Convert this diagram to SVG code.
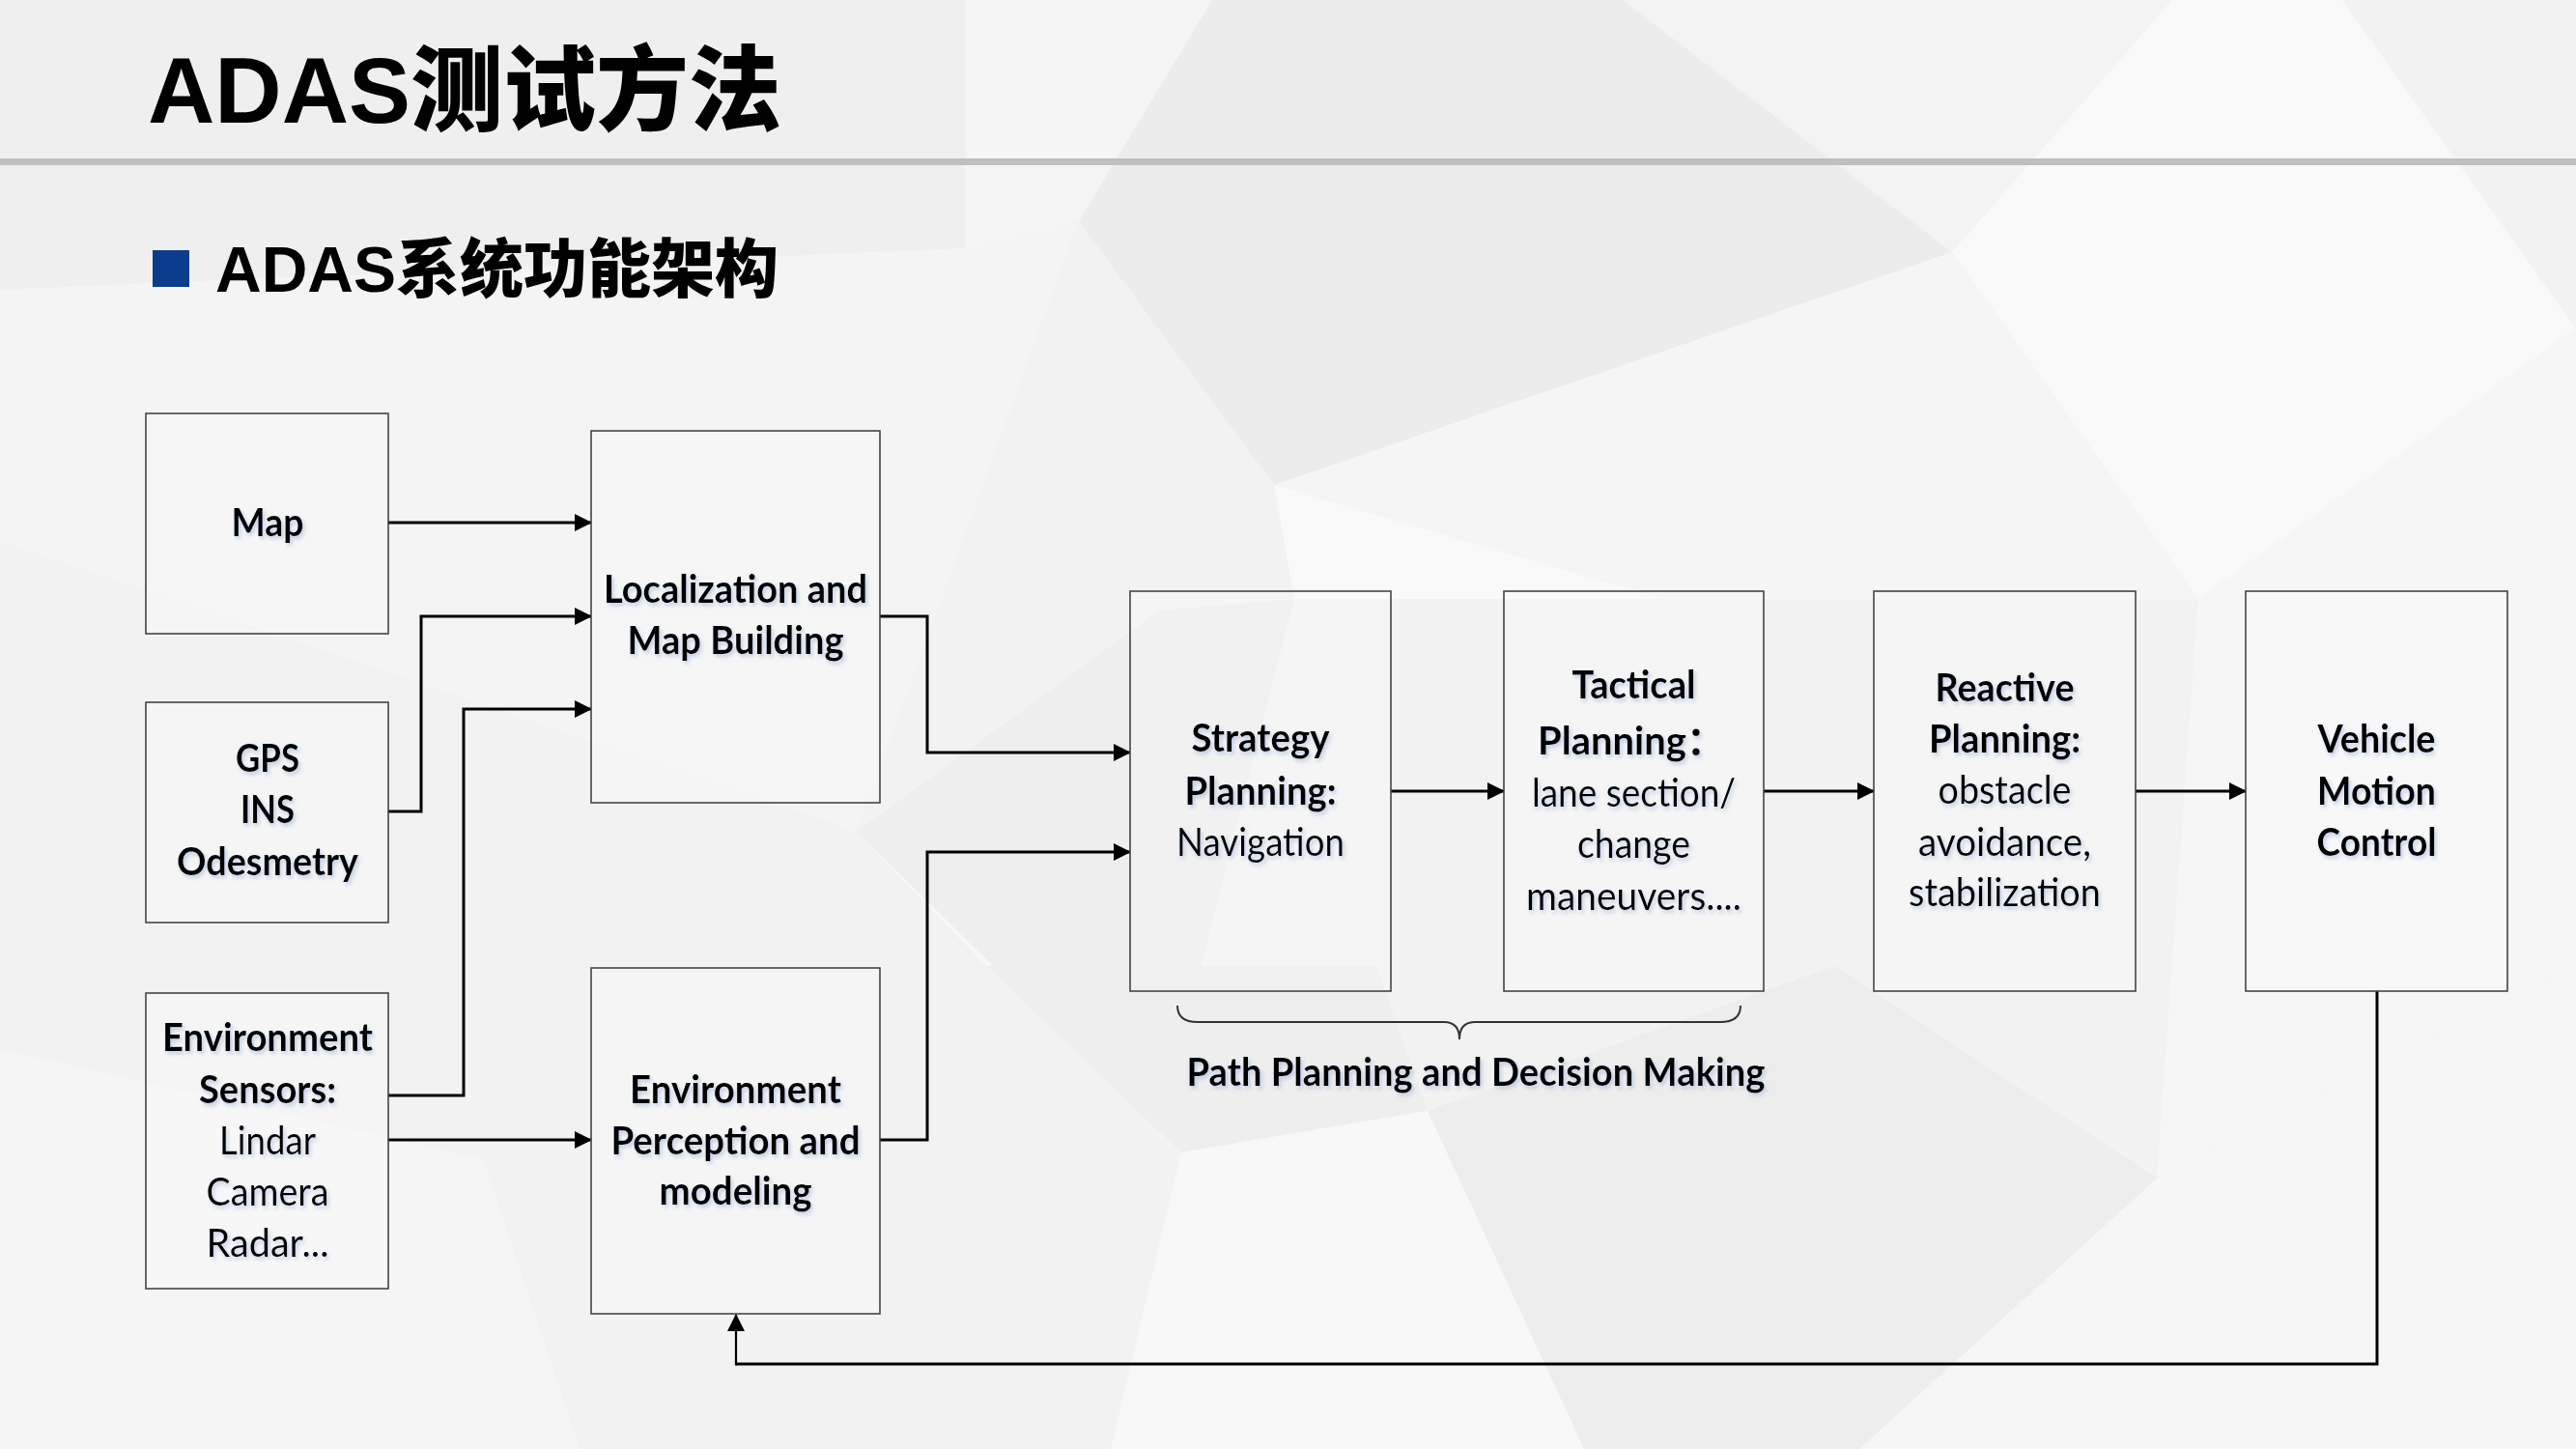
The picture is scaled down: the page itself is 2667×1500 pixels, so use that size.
<svg xmlns="http://www.w3.org/2000/svg" width="2667" height="1500" viewBox="0 0 2667 1500">
<defs>
<style>
.box{fill:#ffffff;fill-opacity:0.22;stroke:#444444;stroke-width:1.6}
.t{font-family:Lato,"Open Sans",sans-serif;font-size:40px;fill:#000;text-anchor:middle}
.b{font-weight:700}
.r{font-weight:400}
.con{fill:none;stroke:#000;stroke-width:3;stroke-linejoin:miter}
.bg polygon{stroke:none}
</style>
<marker id="ah" markerUnits="userSpaceOnUse" markerWidth="18" markerHeight="18" viewBox="0 0 18 18" refX="17" refY="9" orient="auto">
<path d="M0,0 L18,9 L0,18 z" fill="#000"/>
</marker>
<filter id="ts" x="-10%" y="-30%" width="130%" height="180%">
<feDropShadow dx="2" dy="3" stdDeviation="2" flood-color="#9db3d9" flood-opacity="0.6"/>
</filter>
</defs>

<g class="bg">
<rect x="0" y="0" width="2667" height="1500" fill="#f2f2f2"/>
<polygon points="0,0 1000,0 1000,257 0,300" fill="#efefef"/>
<polygon points="1000,0 1255,0 1117,229 1000,257" fill="#f5f5f5"/>
<polygon points="1255,0 1680,0 2021,261 1319,502 1117,229" fill="#ececec"/>
<polygon points="1680,0 2249,0 2021,261" fill="#f3f3f3"/>
<polygon points="2249,0 2425,0 2667,340 2276,620 2021,261" fill="#f9f9f9"/>
<polygon points="2425,0 2667,0 2667,340" fill="#f2f2f2"/>
<polygon points="1319,502 2021,261 2276,620 1723,620" fill="#f5f5f5"/>
<polygon points="1319,502 1723,620 1340,620" fill="#f9f9f9"/>
<polygon points="0,300 1000,257 1117,229 887,861 0,560" fill="#f4f4f4"/>
<polygon points="887,861 1200,632 1340,620 1200,1169" fill="#eeeeee"/>
<polygon points="887,861 1200,1169 1021,1000" fill="#f7f7f7"/>
<polygon points="2276,620 2667,340 2667,1000 2233,1220" fill="#f6f6f6"/>
<polygon points="1021,1000 1425,1000 1478,1150 1223,1193" fill="#eeeeee"/>
<polygon points="1478,1150 1900,1000 2233,1220 1925,1500 1640,1500" fill="#ededed"/>
<polygon points="2233,1220 2667,1000 2667,1500 1925,1500" fill="#f6f6f6"/>
<polygon points="0,1086 500,1200 600,1500 0,1500" fill="#f5f5f5"/>
<polygon points="1223,1193 1478,1150 1640,1500 1150,1500" fill="#f8f8f8"/>
</g>

<g id="header">
<text x="153" y="127" font-family="'Liberation Sans','Noto Sans CJK SC',sans-serif" font-weight="900" font-size="96" fill="#000">ADAS测试方法</text>
<rect x="0" y="164" width="2667" height="7" fill="#bfbfbf"/>
<rect x="158" y="259" width="38" height="38" fill="#0b3d8c"/>
<text x="223" y="302" font-family="'Liberation Sans','Noto Sans CJK SC',sans-serif" font-weight="900" font-size="66" fill="#000">ADAS系统功能架构</text>
</g>

<g id="connectors">
<path class="con" d="M402,541 H612" marker-end="url(#ah)"/>
<path class="con" d="M402,840 H436 V638 H612" marker-end="url(#ah)"/>
<path class="con" d="M402,1134 H480 V734 H612" marker-end="url(#ah)"/>
<path class="con" d="M402,1180 H612" marker-end="url(#ah)"/>
<path class="con" d="M911,638 H960 V779 H1170" marker-end="url(#ah)"/>
<path class="con" d="M911,1180 H960 V882 H1170" marker-end="url(#ah)"/>
<path class="con" d="M1440,819 H1557" marker-end="url(#ah)"/>
<path class="con" d="M1826,819 H1940" marker-end="url(#ah)"/>
<path class="con" d="M2211,819 H2325" marker-end="url(#ah)"/>
<path class="con" d="M2461,1026 V1412 H762"/>
<path class="con" style="stroke-width:2.2" d="M762,1413.5 V1361" marker-end="url(#ah)"/>
<path d="M1219,1041 Q1219,1058 1240,1058 L1495,1058 Q1511,1058 1511,1076 Q1511,1058 1527,1058 L1781,1058 Q1802,1058 1802,1041" fill="none" stroke="#333" stroke-width="2"/>
<text class="t b" x="1528" y="1124" textLength="599" lengthAdjust="spacingAndGlyphs" filter="url(#ts)">Path Planning and Decision Making</text>
</g>

<g id="map">
<rect class="box" x="151" y="428" width="251" height="228"/>
<text class="t b" x="277" y="555" textLength="75" lengthAdjust="spacingAndGlyphs" filter="url(#ts)">Map</text>
</g>

<g id="gps">
<rect class="box" x="151" y="727" width="251" height="228"/>
<g class="t b" filter="url(#ts)">
<text x="277" y="799" textLength="66" lengthAdjust="spacingAndGlyphs">GPS</text>
<text x="277" y="852" textLength="56" lengthAdjust="spacingAndGlyphs">INS</text>
<text x="277" y="906" textLength="188" lengthAdjust="spacingAndGlyphs">Odesmetry</text>
</g>
</g>

<g id="env-sensors">
<rect class="box" x="151" y="1028" width="251" height="306"/>
<g class="t" filter="url(#ts)">
<text class="b" x="277" y="1088" textLength="218" lengthAdjust="spacingAndGlyphs">Environment</text>
<text class="b" x="277" y="1142" textLength="142" lengthAdjust="spacingAndGlyphs">Sensors:</text>
<text class="r" x="277" y="1195" textLength="100" lengthAdjust="spacingAndGlyphs">Lindar</text>
<text class="r" x="277" y="1248" textLength="127" lengthAdjust="spacingAndGlyphs">Camera</text>
<text class="r" x="277" y="1301" textLength="127" lengthAdjust="spacingAndGlyphs">Radar...</text>
</g>
</g>

<g id="localization">
<rect class="box" x="612" y="446" width="299" height="385"/>
<g class="t b" filter="url(#ts)">
<text x="761.5" y="624" textLength="273" lengthAdjust="spacingAndGlyphs">Localization and</text>
<text x="761.5" y="677" textLength="224" lengthAdjust="spacingAndGlyphs">Map Building</text>
</g>
</g>

<g id="env-perception">
<rect class="box" x="612" y="1002" width="299" height="358"/>
<g class="t b" filter="url(#ts)">
<text x="761.5" y="1142" textLength="219" lengthAdjust="spacingAndGlyphs">Environment</text>
<text x="761.5" y="1195" textLength="258" lengthAdjust="spacingAndGlyphs">Perception and</text>
<text x="761.5" y="1247" textLength="158" lengthAdjust="spacingAndGlyphs">modeling</text>
</g>
</g>

<g id="strategy">
<rect class="box" x="1170" y="612" width="270" height="414"/>
<g class="t" filter="url(#ts)">
<text class="b" x="1305" y="778" textLength="143" lengthAdjust="spacingAndGlyphs">Strategy</text>
<text class="b" x="1305" y="833" textLength="157" lengthAdjust="spacingAndGlyphs">Planning:</text>
<text class="r" x="1305" y="886" textLength="174" lengthAdjust="spacingAndGlyphs">Navigation</text>
</g>
</g>

<g id="tactical">
<rect class="box" x="1557" y="612" width="269" height="414"/>
<g class="t" filter="url(#ts)">
<text class="b" x="1691.5" y="723" textLength="128" lengthAdjust="spacingAndGlyphs">Tactical</text>
<text class="b" x="1592" y="781" style="text-anchor:start" font-family="Lato,'Noto Sans CJK SC',sans-serif">Planning：</text>
<text class="r" x="1691.5" y="835" textLength="211" lengthAdjust="spacingAndGlyphs">lane section/</text>
<text class="r" x="1691.5" y="888" textLength="117" lengthAdjust="spacingAndGlyphs">change</text>
<text class="r" x="1691.5" y="942" textLength="223" lengthAdjust="spacingAndGlyphs">maneuvers....</text>
</g>
</g>

<g id="reactive">
<rect class="box" x="1940" y="612" width="271" height="414"/>
<g class="t" filter="url(#ts)">
<text class="b" x="2075.5" y="726" textLength="144" lengthAdjust="spacingAndGlyphs">Reactive</text>
<text class="b" x="2075.5" y="779" textLength="157" lengthAdjust="spacingAndGlyphs">Planning:</text>
<text class="r" x="2075.5" y="832" textLength="138" lengthAdjust="spacingAndGlyphs">obstacle</text>
<text class="r" x="2075.5" y="886" textLength="179" lengthAdjust="spacingAndGlyphs">avoidance,</text>
<text class="r" x="2075.5" y="938" textLength="199" lengthAdjust="spacingAndGlyphs">stabilization</text>
</g>
</g>

<g id="vehicle">
<rect class="box" x="2325" y="612" width="271" height="414"/>
<g class="t b" filter="url(#ts)">
<text x="2460.5" y="779" textLength="122" lengthAdjust="spacingAndGlyphs">Vehicle</text>
<text x="2460.5" y="833" textLength="123" lengthAdjust="spacingAndGlyphs">Motion</text>
<text x="2460.5" y="886" textLength="124" lengthAdjust="spacingAndGlyphs">Control</text>
</g>
</g>
</svg>
